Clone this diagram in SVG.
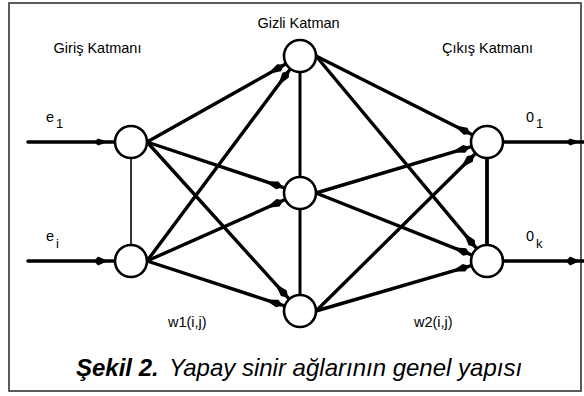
<svg xmlns="http://www.w3.org/2000/svg" width="584" height="396" viewBox="0 0 584 396">
  <defs>
    <style>
      .frame { fill: #ffffff; stroke: #333333; stroke-width: 1.6; }
      .node circle { fill: #ffffff; stroke: #000000; stroke-width: 2.6; }
      .edge { stroke: #000000; stroke-width: 3.4; fill: none; stroke-linecap: round; }
      .link { stroke: #000000; fill: none; }
      .lbl { font-family: "Liberation Sans", Arial, sans-serif; font-size: 14.5px; fill: #000000; }
      .sub { font-family: "Liberation Sans", Arial, sans-serif; font-size: 13px; fill: #000000; }
      .cap { font-family: "Liberation Sans", Arial, sans-serif; font-size: 24px; font-style: italic; fill: #000000; }
    </style>
    <marker id="kite" markerUnits="userSpaceOnUse" markerWidth="22" markerHeight="10" viewBox="-21 -5 22 10" refX="0" refY="0" orient="auto">
      <path d="M0,0 L-6,-4 L-19,0 L-6,4 Z" fill="#000000"/>
    </marker>
  </defs>

  <rect class="frame" x="9" y="3" width="572" height="388"/>

  <!-- layer titles -->
  <text class="lbl" x="97.5" y="53" text-anchor="middle">Giriş Katmanı</text>
  <text class="lbl" x="298.5" y="27.5" text-anchor="middle">Gizli Katman</text>
  <text class="lbl" x="487.5" y="53" text-anchor="middle">Çıkış Katmanı</text>

  <!-- connectors -->
  <g id="connectors">
    <!-- inputs and outputs of the network -->
    <line class="edge" x1="28" y1="142" x2="115" y2="142" stroke-width="3" stroke-linecap="butt"/>
    <path d="M108,142 L98,138.5 L94,142 L98,145.5 Z" fill="#000"/>
    <line class="edge" x1="28" y1="261" x2="115" y2="261" stroke-width="5" stroke-linecap="butt"/>
    <path d="M108,261 L98,256.5 L94,261 L98,265.5 Z" fill="#000"/>
    <line class="edge" x1="503" y1="142" x2="584" y2="142" stroke-width="3" stroke-linecap="butt"/>
    <path d="M580,142 L570,138.5 L566,142 L570,145.5 Z" fill="#000"/>
    <line class="edge" x1="503" y1="261" x2="584" y2="261" stroke-width="5" stroke-linecap="butt"/>
    <path d="M580,261 L570,256.5 L566,261 L570,265.5 Z" fill="#000"/>

    <!-- same-layer links -->
    <line class="link" x1="131" y1="158" x2="131" y2="245" stroke-width="1.6"/>
    <line class="link" x1="300" y1="72" x2="300" y2="177" stroke-width="3"/>
    <line class="link" x1="300" y1="209" x2="300" y2="295" stroke-width="3"/>
    <line class="link" x1="487" y1="158" x2="487" y2="245" stroke-width="3.8"/>

    <!-- input to hidden weights w1(i,j) -->
    <line class="edge" x1="147" y1="142" x2="284.3" y2="64.8" marker-end="url(#kite)"/>
    <line class="edge" x1="147" y1="142" x2="282.9" y2="187.3" marker-end="url(#kite)"/>
    <line class="edge" x1="147" y1="142" x2="287.9" y2="297.7" marker-end="url(#kite)"/>
    <line class="edge" x1="147" y1="261" x2="289.2" y2="70.4" marker-end="url(#kite)"/>
    <line class="edge" x1="147" y1="261" x2="283.5" y2="200.3" marker-end="url(#kite)"/>
    <line class="edge" x1="147" y1="261" x2="282.9" y2="305.4" marker-end="url(#kite)"/>

    <!-- hidden to output weights w2(i,j) -->
    <line class="edge" x1="316" y1="56" x2="470.9" y2="133.9" marker-end="url(#kite)"/>
    <line class="edge" x1="316" y1="56" x2="475.5" y2="247.2" marker-end="url(#kite)"/>
    <line class="edge" x1="316" y1="193" x2="469.8" y2="147.1" marker-end="url(#kite)"/>
    <line class="edge" x1="316" y1="193" x2="470.3" y2="254.3" marker-end="url(#kite)"/>
    <line class="edge" x1="316" y1="311" x2="474.2" y2="154.7" marker-end="url(#kite)"/>
    <line class="edge" x1="316" y1="311" x2="469.7" y2="266.1" marker-end="url(#kite)"/>
  </g>

  <!-- input layer -->
  <g id="input-1" class="node"><circle cx="131" cy="142" r="16"/></g>
  <g id="input-i" class="node"><circle cx="131" cy="261" r="16"/></g>
  <!-- hidden layer -->
  <g id="hidden-1" class="node"><circle cx="300" cy="56" r="16"/></g>
  <g id="hidden-2" class="node"><circle cx="300" cy="193" r="16"/></g>
  <g id="hidden-3" class="node"><circle cx="300" cy="311" r="16"/></g>
  <!-- output layer -->
  <g id="output-1" class="node"><circle cx="487" cy="142" r="16"/></g>
  <g id="output-k" class="node"><circle cx="487" cy="261" r="16"/></g>

  <!-- signal labels -->
  <text class="lbl" x="46" y="122">e</text><text class="sub" x="56" y="128">1</text>
  <text class="lbl" x="46" y="241">e</text><text class="sub" x="56" y="248">i</text>
  <text class="lbl" x="526" y="122">0</text><text class="sub" x="536" y="128">1</text>
  <text class="lbl" x="526" y="241">0</text><text class="sub" x="536" y="248">k</text>

  <!-- weight labels -->
  <text class="lbl" x="168" y="327">w1(i,j)</text>
  <text class="lbl" x="414" y="327">w2(i,j)</text>

  <!-- caption -->
  <text class="cap" x="76" y="376"><tspan font-weight="bold">Şekil 2.</tspan><tspan x="169">Yapay sinir ağlarının genel yapısı</tspan></text>
</svg>
